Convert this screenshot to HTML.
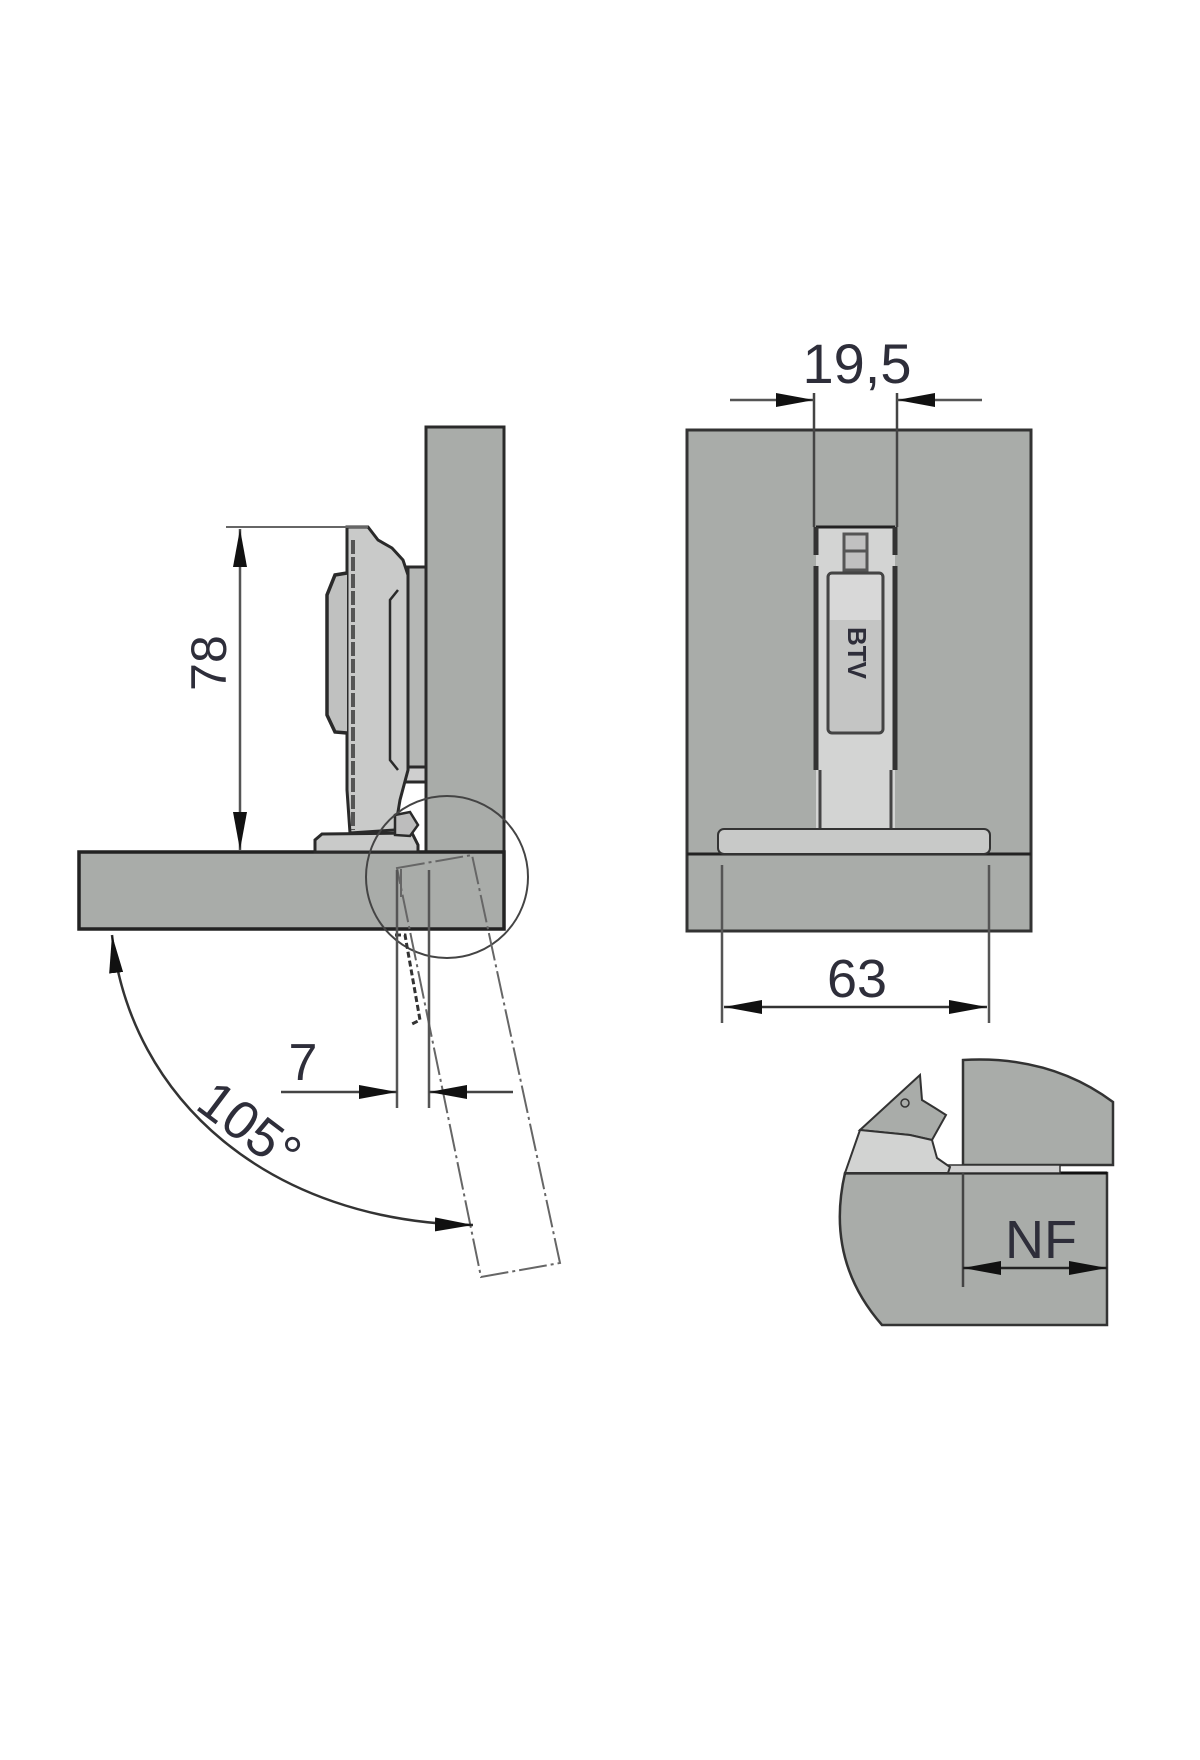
<!DOCTYPE html>
<html><head><meta charset="utf-8"><style>
html,body{margin:0;padding:0;background:#fff}
svg{display:block}
text{font-family:"Liberation Sans","DejaVu Sans",sans-serif;fill:#2e2e3a}
</style></head><body>
<svg width="1200" height="1760" viewBox="0 0 1200 1760" xmlns="http://www.w3.org/2000/svg">
<defs>
<marker id="ah" viewBox="0 0 10 10" refX="10" refY="5" markerWidth="38" markerHeight="14" preserveAspectRatio="none" orient="auto-start-reverse" markerUnits="userSpaceOnUse"><path d="M0,0 L10,5 L0,10 Z" fill="#111"/></marker>
</defs>
<rect width="1200" height="1760" fill="#fff"/>

<!-- ===== LEFT VIEW ===== -->
<rect x="426" y="427" width="78" height="425" fill="#a9aca9" stroke="#2a2a2a" stroke-width="3"/>
<rect x="79" y="852" width="425" height="77" fill="#a9aca9" stroke="#222" stroke-width="3.5"/>

<rect x="408" y="567" width="18" height="200" fill="#b5b7b5" stroke="#2a2a2a" stroke-width="3"/>
<rect x="405" y="767" width="21" height="15" fill="#cfcfcf" stroke="#2a2a2a" stroke-width="3"/>
<path d="M347,527 L368,527 L378,540 L392,548 L403,560 L408,575 L408,770 L400,800 L395,830 L350,833 L347,790 Z" fill="#c9cac9" stroke="#2a2a2a" stroke-width="3"/>
<path d="M353,540 L353,830" stroke="#555" stroke-width="4" stroke-dasharray="14,3"/>
<path d="M398,590 L390,600 L390,760 L398,770" fill="none" stroke="#2a2a2a" stroke-width="2.5"/>
<path d="M347,573 L335,575 L327,595 L327,715 L335,732 L347,733" fill="#c0c1c0" stroke="#2a2a2a" stroke-width="3.5"/>
<path d="M315,852 L315,840 L322,834 L412,833 L418,845 L418,852 Z" fill="#c9cac9" stroke="#2a2a2a" stroke-width="3"/>
<path d="M395,815 L410,812 L418,825 L410,836 L395,835 Z" fill="#bdbdbd" stroke="#2a2a2a" stroke-width="2.5"/>

<!-- dimension 78 -->
<line x1="226" y1="527" x2="368" y2="527" stroke="#666" stroke-width="2"/>
<line x1="240" y1="529" x2="240" y2="850" stroke="#555" stroke-width="2.5" marker-start="url(#ah)" marker-end="url(#ah)"/>
<text x="213" y="663" font-size="50" text-anchor="middle" transform="rotate(-90 213 663)" dominant-baseline="middle">78</text>

<circle cx="447" cy="877" r="81" fill="none" stroke="#444" stroke-width="2"/>

<g fill="none" stroke="#666" stroke-width="2" stroke-dasharray="28,4,3,4">
<path d="M397,868 L472,855 L560,1263 L481,1277 Z"/>
<path d="M401,897 L401,868"/>
</g>
<path d="M395,935 L405,935 L420,1020 L410,1025" fill="none" stroke="#333" stroke-width="3" stroke-dasharray="6,3"/>
<!-- 7 dimension -->
<line x1="397" y1="870" x2="397" y2="1108" stroke="#555" stroke-width="2.5"/>
<line x1="429" y1="870" x2="429" y2="1108" stroke="#555" stroke-width="2.5"/>
<line x1="281" y1="1092" x2="397" y2="1092" stroke="#444" stroke-width="2.5" marker-end="url(#ah)"/>
<line x1="513" y1="1092" x2="429" y2="1092" stroke="#444" stroke-width="2.5" marker-end="url(#ah)"/>
<text x="303" y="1080" font-size="52" text-anchor="middle">7</text>

<!-- 105° arc -->
<path d="M112,935 C130,1100 270,1222 473,1225" fill="none" stroke="#333" stroke-width="2.5" marker-start="url(#ah)" marker-end="url(#ah)"/>
<text x="247" y="1130" font-size="54" text-anchor="middle" dominant-baseline="middle" transform="rotate(37 247 1130)">105°</text>

<!-- ===== RIGHT VIEW ===== -->
<rect x="687" y="430" width="344" height="501" fill="#a9aca9" stroke="#333" stroke-width="3"/>
<line x1="687" y1="854" x2="1031" y2="854" stroke="#222" stroke-width="3"/>
<rect x="816" y="527" width="79" height="302" fill="#d3d4d3"/>
<line x1="816" y1="527" x2="895" y2="527" stroke="#222" stroke-width="3"/>
<line x1="816" y1="527" x2="816" y2="555" stroke="#333" stroke-width="5"/>
<line x1="895" y1="527" x2="895" y2="555" stroke="#333" stroke-width="5"/>
<line x1="816" y1="566" x2="816" y2="770" stroke="#333" stroke-width="5"/>
<line x1="895" y1="566" x2="895" y2="770" stroke="#333" stroke-width="5"/>
<line x1="820" y1="770" x2="820" y2="829" stroke="#444" stroke-width="3"/>
<line x1="891" y1="770" x2="891" y2="829" stroke="#444" stroke-width="3"/>
<rect x="844" y="534" width="23" height="36" fill="#c0c0c0" stroke="#555" stroke-width="3"/>
<line x1="844" y1="551" x2="867" y2="551" stroke="#555" stroke-width="3"/>
<rect x="828" y="573" width="55" height="160" rx="4" fill="#c4c5c4" stroke="#444" stroke-width="3"/>
<rect x="830" y="575" width="51" height="45" fill="#d8d8d8"/>
<text x="855" y="653" font-size="26" font-weight="bold" text-anchor="middle" dominant-baseline="middle" transform="rotate(90 855 653)" fill="#555">BTV</text>
<rect x="718" y="829" width="272" height="25" rx="6" fill="#c8c9c8" stroke="#333" stroke-width="2"/>
<!-- 19,5 dim -->
<line x1="814" y1="393" x2="814" y2="527" stroke="#444" stroke-width="2.5"/>
<line x1="897" y1="393" x2="897" y2="527" stroke="#444" stroke-width="2.5"/>
<line x1="730" y1="400" x2="814" y2="400" stroke="#555" stroke-width="2.5" marker-end="url(#ah)"/>
<line x1="982" y1="400" x2="897" y2="400" stroke="#555" stroke-width="2.5" marker-end="url(#ah)"/>
<text x="857" y="383" font-size="56" text-anchor="middle">19,5</text>
<!-- 63 dim -->
<line x1="722" y1="865" x2="722" y2="1023" stroke="#555" stroke-width="2.5"/>
<line x1="989" y1="865" x2="989" y2="1023" stroke="#555" stroke-width="2.5"/>
<line x1="724" y1="1007" x2="987" y2="1007" stroke="#333" stroke-width="2.5" marker-start="url(#ah)" marker-end="url(#ah)"/>
<text x="857" y="997" font-size="54" text-anchor="middle">63</text>

<!-- ===== DETAIL ===== -->
<path d="M963,1060 Q1050,1055 1113,1102 L1113,1165 L963,1165 Z" fill="#a9aca9" stroke="#333" stroke-width="2.5"/>
<path d="M845,1173 L1107,1173 L1107,1325 L882,1325 Q825,1260 845,1173 Z" fill="#a9aca9" stroke="#333" stroke-width="2.5"/>
<line x1="845" y1="1173" x2="1107" y2="1173" stroke="#111" stroke-width="3"/>
<rect x="933" y="1165" width="127" height="8" fill="#cfcfcf" stroke="#333" stroke-width="1.5"/>
<path d="M860,1130 L920,1075 L922,1100 L935,1108 L946,1115 L932,1140 L910,1135 Z" fill="#a9aca9" stroke="#333" stroke-width="2"/>
<path d="M860,1130 L910,1135 L932,1140 L937,1158 L950,1167 L948,1173 L845,1173 Z" fill="#d2d3d2" stroke="#333" stroke-width="2"/>
<circle cx="905" cy="1103" r="4" fill="none" stroke="#333" stroke-width="1.5"/>
<line x1="963" y1="1173" x2="963" y2="1287" stroke="#444" stroke-width="2.5"/>
<line x1="963" y1="1268" x2="1107" y2="1268" stroke="#222" stroke-width="2.5" marker-start="url(#ah)" marker-end="url(#ah)"/>
<text x="1041" y="1258" font-size="54" text-anchor="middle">NF</text>
</svg>
</body></html>
